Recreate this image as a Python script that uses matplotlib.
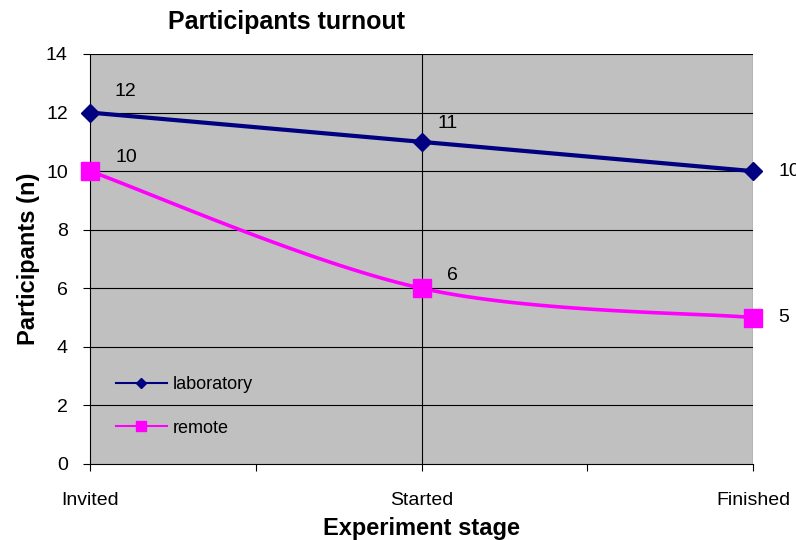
import numpy as np
import matplotlib
matplotlib.use("Agg")
import matplotlib.pyplot as plt

plt.rcParams['font.family'] = ['Liberation Sans', 'DejaVu Sans']

stages = ["Invited", "Started", "Finished"]
laboratory = [12, 11, 10]
remote = [10, 6, 5]


def smooth(ys, n=40):
    # Catmull-Rom style Bezier smoothing, like the spreadsheet "smoothed line"
    pts = np.column_stack([np.arange(len(ys)), ys]).astype(float)
    ext = np.vstack([pts[0], pts, pts[-1]])
    out = []
    t = np.linspace(0, 1, n)[:, None]
    for i in range(len(pts) - 1):
        p0, p1, p2, p3 = ext[i], ext[i + 1], ext[i + 2], ext[i + 3]
        c1 = p1 + (p2 - p0) / 6
        c2 = p2 - (p3 - p1) / 6
        seg = ((1 - t) ** 3) * p1 + 3 * ((1 - t) ** 2) * t * c1 + 3 * (1 - t) * t ** 2 * c2 + t ** 3 * p2
        out.append(seg)
    out = np.vstack(out)
    return out[:, 0], out[:, 1]


fig = plt.figure(figsize=(7.96, 5.4), dpi=100)
ax = fig.add_axes([90 / 796, 76 / 540, 663 / 796, 410 / 540])
ax.set_facecolor("#C0C0C0")

x = np.arange(len(stages))
ax.set_xlim(0, 2)
ax.set_ylim(0, 14)

for y in range(2, 15, 2):
    ax.axhline(y, color="black", lw=0.8, zorder=1)
ax.axvline(1, color="black", lw=0.8, zorder=1)
ax.axvline(2, color="black", lw=0.8, zorder=1)

ax.plot(x, laboratory, color="#000080", lw=3, marker="D", markersize=9,
        zorder=3, clip_on=False)
sx, sy = smooth(remote)
ax.plot(sx, sy, color="#FF00FF", lw=2.6, zorder=3, clip_on=False)
ax.plot(x, remote, ls="none", color="#FF00FF", marker="s", markersize=13,
        zorder=4, clip_on=False)

# legend handles
h1, = ax.plot([], [], color="#000080", lw=1.5, marker="D", markersize=5)
h2, = ax.plot([], [], color="#FF00FF", lw=1.5, marker="s", markersize=7)
leg = ax.legend([h1, h2], ["laboratory", "remote"], loc="lower left",
                bbox_to_anchor=(0.015, 0.027), frameon=False, fontsize=13,
                handlelength=2.8, labelspacing=1.45, handletextpad=0.35)

offsets_first = [(35, 21), (26, 18), (25, 0)]
offsets_second = [(36, 14), (31, 13), (25, 0)]
for i in range(3):
    ha = "left" if i == 2 else "center"
    ax.annotate(str(laboratory[i]), (x[i], laboratory[i]), xytext=offsets_first[i],
                textcoords="offset pixels", ha=ha, va="center", fontsize=14,
                annotation_clip=False)
    ax.annotate(str(remote[i]), (x[i], remote[i]), xytext=offsets_second[i],
                textcoords="offset pixels", ha=ha, va="center", fontsize=14,
                annotation_clip=False)

ax.set_yticks(range(0, 15, 2))
ax.set_xticks(x)
ax.set_xticks([0.5, 1.5], minor=True)
ax.set_xticklabels(stages)
ax.tick_params(axis="both", labelsize=14, color="black", length=5, width=0.8,
               direction="out")
ax.tick_params(axis="x", which="both", pad=15, length=5, width=0.8)
ax.tick_params(axis="y", pad=11)

for side in ["top", "right"]:
    ax.spines[side].set_visible(False)
for side in ["left", "bottom"]:
    ax.spines[side].set_linewidth(0.8)

ax.set_ylabel("Participants (n)", fontsize=17, fontweight="bold", labelpad=4)
ax.set_xlabel("Experiment stage", fontsize=17, fontweight="bold", labelpad=6)
fig.text(287 / 796, 1 - 22 / 540, "Participants turnout", ha="center", va="center",
         fontsize=18, fontweight="bold")

fig.savefig("out.png", dpi=100)
